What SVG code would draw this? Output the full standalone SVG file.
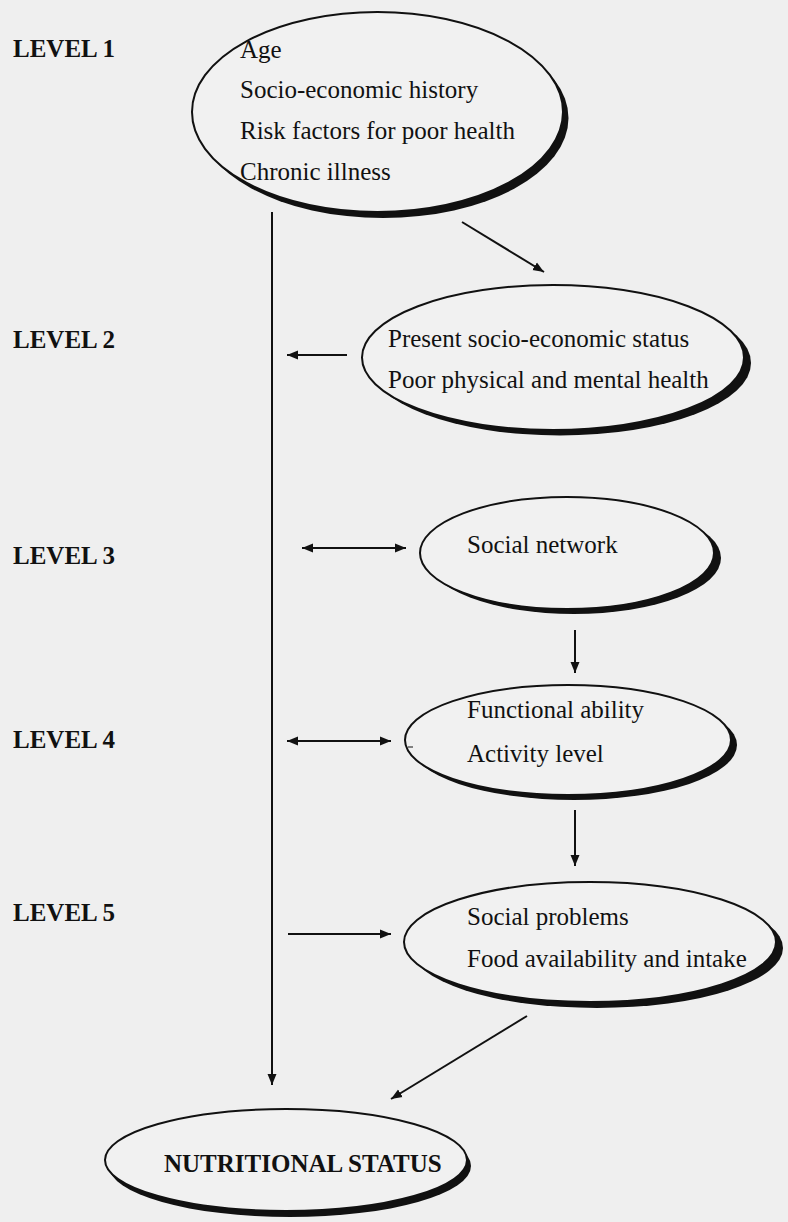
<svg xmlns="http://www.w3.org/2000/svg" width="788" height="1222" viewBox="0 0 788 1222">
<style>
.bg{fill:#efefef}
.sh{fill:#111}
.el{fill:#f1f1f1;stroke:#111;stroke-width:2}
.t{font-family:"Liberation Serif","Times New Roman",serif;font-size:25px;fill:#111}
.lv{font-family:"Liberation Serif","Times New Roman",serif;font-size:25px;font-weight:bold;fill:#111}
.c{stroke:#111;stroke-width:2;fill:none}
</style>
<defs>
<marker id="ah" markerUnits="userSpaceOnUse" markerWidth="12" markerHeight="10" refX="11" refY="5" orient="auto-start-reverse">
<path d="M0,0.5 L11,5 L0,9.5 z" fill="#111"/>
</marker>
</defs>
<rect class="bg" x="0" y="0" width="788" height="1222"/>

<g id="levels">
<text class="lv" x="13" y="57">LEVEL 1</text>
<text class="lv" x="13" y="348">LEVEL 2</text>
<text class="lv" x="13" y="564">LEVEL 3</text>
<text class="lv" x="13" y="748">LEVEL 4</text>
<text class="lv" x="13" y="921">LEVEL 5</text>
</g>

<g id="node1">
<ellipse class="sh" cx="383" cy="118" rx="185.5" ry="100"/>
<ellipse class="el" cx="377.5" cy="112" rx="185.5" ry="100"/>
<text class="t" x="240" y="58">Age</text>
<text class="t" x="240" y="98">Socio-economic history</text>
<text class="t" x="240" y="139">Risk factors for poor health</text>
<text class="t" x="240" y="180">Chronic illness</text>
</g>

<g id="node2">
<ellipse class="sh" cx="560" cy="363" rx="191" ry="72.5"/>
<ellipse class="el" cx="553" cy="357.5" rx="191" ry="72.5"/>
<text class="t" x="388" y="347">Present socio-economic status</text>
<text class="t" x="388" y="388">Poor physical and mental health</text>
</g>

<g id="node3">
<ellipse class="sh" cx="574" cy="558" rx="147" ry="56"/>
<ellipse class="el" cx="567" cy="553" rx="147" ry="56"/>
<text class="t" x="467" y="553">Social network</text>
</g>

<g id="node4">
<ellipse class="sh" cx="574" cy="745" rx="163" ry="55"/>
<ellipse class="el" cx="568" cy="740" rx="163" ry="55"/>
<line x1="408" y1="747" x2="413" y2="747" stroke="#111" stroke-width="1"/>
<text class="t" x="467" y="718">Functional ability</text>
<text class="t" x="467" y="762">Activity level</text>
</g>

<g id="node5">
<ellipse class="sh" cx="597" cy="948" rx="186" ry="60"/>
<ellipse class="el" cx="590" cy="942" rx="186" ry="60"/>
<text class="t" x="467" y="925">Social problems</text>
<text class="t" x="467" y="967">Food availability and intake</text>
</g>

<g id="node6">
<ellipse class="sh" cx="290" cy="1166" rx="181" ry="51"/>
<ellipse class="el" cx="286" cy="1160" rx="181" ry="51"/>
<text class="lv" x="164" y="1172">NUTRITIONAL STATUS</text>
</g>

<g id="connectors">
<line class="c" x1="272" y1="212" x2="272" y2="1085" marker-end="url(#ah)"/>
<line class="c" x1="462" y1="222" x2="544" y2="272" marker-end="url(#ah)"/>
<line class="c" x1="347" y1="355" x2="287" y2="355" marker-end="url(#ah)"/>
<line class="c" x1="302" y1="548" x2="406" y2="548" marker-start="url(#ah)" marker-end="url(#ah)"/>
<line class="c" x1="575" y1="630" x2="575" y2="673" marker-end="url(#ah)"/>
<line class="c" x1="287" y1="741" x2="391" y2="741" marker-start="url(#ah)" marker-end="url(#ah)"/>
<line class="c" x1="575" y1="810" x2="575" y2="866" marker-end="url(#ah)"/>
<line class="c" x1="288" y1="934" x2="391" y2="934" marker-end="url(#ah)"/>
<line class="c" x1="527" y1="1016" x2="391" y2="1099" marker-end="url(#ah)"/>
</g>
</svg>
